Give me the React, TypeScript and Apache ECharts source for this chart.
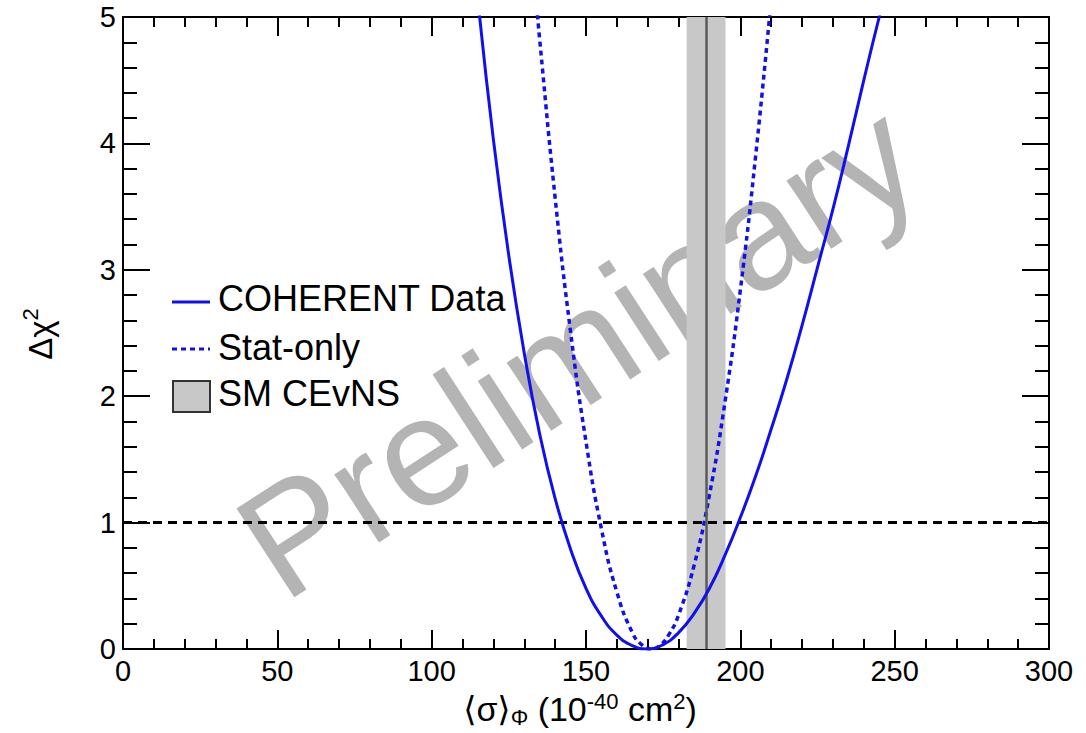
import React, { useEffect, useRef } from "react";
import * as echarts from "echarts";

// ---- data ----
const xTicks = [0, 50, 100, 150, 200, 250, 300];
const yTicks = [0, 1, 2, 3, 4, 5];

// COHERENT Data (solid)
const solidX = [115, 120, 125, 130, 135, 140, 145, 150, 155, 160, 165, 169.6, 175, 180, 185, 190, 195, 200, 205, 210, 215, 220, 225, 230, 235, 240, 245, 246];
const solidY = [5.13, 4.03, 3.11, 2.34, 1.7, 1.19, 0.79, 0.48, 0.26, 0.11, 0.026, 0, 0.035, 0.13, 0.28, 0.48, 0.74, 1.04, 1.37, 1.74, 2.13, 2.56, 3.02, 3.48, 3.98, 4.5, 5.0, 5.08];

// Stat-only (dashed)
const dashX = [134, 135, 140, 145, 150, 155, 160, 165, 168, 171, 174, 177, 180, 185, 190, 195, 200, 205, 210];
const dashY = [5.09, 4.82, 3.57, 2.51, 1.64, 0.95, 0.45, 0.13, 0.035, 0, 0.03, 0.12, 0.27, 0.66, 1.22, 1.95, 2.84, 3.91, 5.14];

// SM CEvNS band
const smCenter = 188.9;
const smLow = 182.6;
const smHigh = 195.2;
const refLevel = 1;

const legendLabels = ["COHERENT Data", "Stat-only", "SM CEvNS"];

const FONT = "'Liberation Sans', 'DejaVu Sans', Arial, sans-serif";
const BLUE = "#1010ee";

export default function App() {
  const ref = useRef<HTMLDivElement>(null);
  useEffect(() => {
    if (!ref.current) return;
    const chart = echarts.init(ref.current, undefined, { renderer: "svg" });
    const axisLine = { show: true, onZero: false, lineStyle: { color: "#000", width: 2 } };
    const xBase = {
      type: "value",
      min: xTicks[0],
      max: xTicks[xTicks.length - 1],
      interval: 50,
      axisLine,
      splitLine: { show: false },
      axisTick: { show: true, inside: true, length: 19, lineStyle: { color: "#000", width: 2 } },
      minorTick: { show: true, splitNumber: 5, length: 10, lineStyle: { color: "#000", width: 2 } },
    };
    const yBase = {
      type: "value",
      min: yTicks[0],
      max: yTicks[yTicks.length - 1],
      interval: 1,
      axisLine,
      splitLine: { show: false },
      axisTick: { show: true, inside: true, length: 27, lineStyle: { color: "#000", width: 2 } },
      minorTick: { show: true, splitNumber: 5, length: 14, lineStyle: { color: "#000", width: 2 } },
    };
    const option: any = {
      animation: false,
      backgroundColor: "#fff",
      grid: { left: 123, right: 37, top: 17, bottom: 84, containLabel: false },
      xAxis: [
        {
          ...xBase,
          position: "bottom",
          axisLabel: { show: true, fontSize: 29, fontFamily: FONT, color: "#000", margin: 7 },
        },
        { ...xBase, position: "top", axisLabel: { show: false } },
      ],
      yAxis: [
        {
          ...yBase,
          position: "left",
          axisLabel: { show: true, fontSize: 29, fontFamily: FONT, color: "#000", margin: 7 },
        },
        { ...yBase, position: "right", axisLabel: { show: false } },
      ],
      series: [
        {
          name: legendLabels[2],
          type: "line",
          data: [],
          silent: true,
          z: 1,
          markArea: {
            silent: true,
            itemStyle: { color: "#c8c8c8" },
            data: [[{ xAxis: smLow }, { xAxis: smHigh }]],
          },
          markLine: {
            silent: true,
            symbol: "none",
            label: { show: false },
            lineStyle: { color: "#5a5a5a", width: 2.5, type: "solid" },
            data: [{ xAxis: smCenter }],
          },
        },
        {
          name: "ref",
          type: "line",
          data: [],
          silent: true,
          z: 3,
          markLine: {
            silent: true,
            symbol: "none",
            label: { show: false },
            lineStyle: { color: "#000", width: 3, type: [9, 6] },
            data: [{ yAxis: refLevel }],
          },
        },
        {
          name: legendLabels[1],
          type: "line",
          smooth: true,
          showSymbol: false,
          z: 4,
          lineStyle: { color: BLUE, width: 3.5, type: [5, 4] },
          data: dashX.map((x, i) => [x, dashY[i]]),
        },
        {
          name: legendLabels[0],
          type: "line",
          smooth: true,
          showSymbol: false,
          z: 5,
          lineStyle: { color: BLUE, width: 3 },
          data: solidX.map((x, i) => [x, solidY[i]]),
        },
      ],
      graphic: [
        {
          type: "text",
          z: 0,
          x: 578,
          y: 350,
          rotation: (33 * Math.PI) / 180,
          style: {
            text: "Preliminary",
            font: `154px ${FONT}`,
            fill: "#b4b4b4",
            align: "center",
            verticalAlign: "middle",
          },
        },
        // legend
        {
          type: "line",
          z: 10,
          shape: { x1: 172, y1: 302, x2: 210, y2: 302 },
          style: { stroke: BLUE, lineWidth: 3 },
        },
        {
          type: "text",
          z: 10,
          x: 218,
          y: 298,
          style: { text: legendLabels[0], font: `36px ${FONT}`, fill: "#000", verticalAlign: "middle" },
        },
        {
          type: "line",
          z: 10,
          shape: { x1: 172, y1: 349, x2: 210, y2: 349 },
          style: { stroke: BLUE, lineWidth: 3, lineDash: [5, 4] },
        },
        {
          type: "text",
          z: 10,
          x: 218,
          y: 347,
          style: { text: legendLabels[1], font: `36px ${FONT}`, fill: "#000", verticalAlign: "middle" },
        },
        {
          type: "rect",
          z: 10,
          shape: { x: 173, y: 381, width: 37, height: 31 },
          style: { fill: "#c8c8c8", stroke: "#333", lineWidth: 2 },
        },
        {
          type: "text",
          z: 10,
          x: 218,
          y: 393,
          style: { text: legendLabels[2], font: `36px ${FONT}`, fill: "#000", verticalAlign: "middle" },
        },
        // axis titles
        {
          type: "text",
          z: 10,
          x: 580,
          y: 709,
          style: {
            text: "⟨σ⟩{sub|Φ} (10{sup|-40} cm{sup|2})",
            font: `34px ${FONT}`,
            fill: "#000",
            align: "center",
            verticalAlign: "middle",
            lineHeight: 38,
            rich: {
              sub: { fontSize: 22, fontFamily: FONT, verticalAlign: "bottom", lineHeight: 22, fill: "#000" },
              sup: { fontSize: 22, fontFamily: FONT, verticalAlign: "top", lineHeight: 22, fill: "#000" },
            },
          },
        },
        {
          type: "text",
          z: 10,
          x: 40,
          y: 334,
          rotation: Math.PI / 2,
          style: {
            text: "Δχ{sup|2}",
            font: `33px ${FONT}`,
            fill: "#000",
            align: "center",
            verticalAlign: "middle",
            lineHeight: 42,
            rich: {
              sup: { fontSize: 22, fontFamily: FONT, verticalAlign: "top", lineHeight: 22, fill: "#000" },
            },
          },
        },
      ],
    };
    chart.setOption(option);
    return () => chart.dispose();
  }, []);
  return (
    <div
      ref={ref}
      style={{ position: "fixed", left: 0, top: 0, width: 1086, height: 733, background: "#fff" }}
    />
  );
}
